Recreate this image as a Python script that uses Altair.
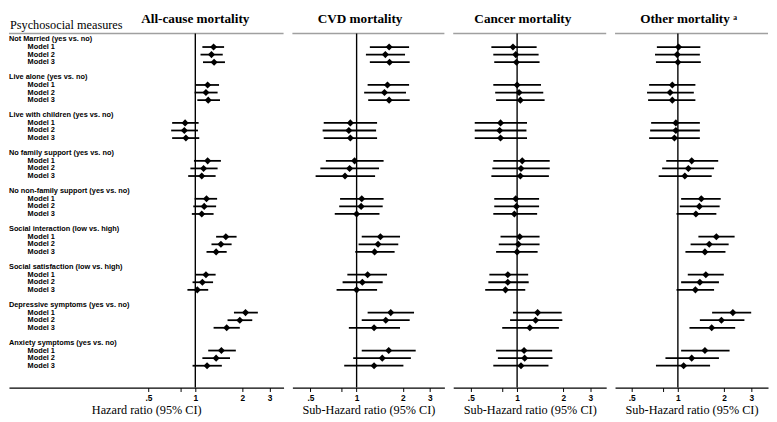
import altair as alt
import pandas as pd

measures = [
    "Not Married (yes vs. no)",
    "Live alone (yes vs. no)",
    "Live with children (yes vs. no)",
    "No family support (yes vs. no)",
    "No non-family support (yes vs. no)",
    "Social interaction (low vs. high)",
    "Social satisfaction (low vs. high)",
    "Depressive symptoms (yes vs. no)",
    "Anxiety symptoms (yes vs. no)",
]
models = ["Model 1", "Model 2", "Model 3"]

outcomes = ["All-cause mortality", "CVD mortality", "Cancer mortality", "Other mortality ᵃ"]
axis_titles = ["Hazard ratio (95% CI)", "Sub-Hazard ratio (95% CI)",
               "Sub-Hazard ratio (95% CI)", "Sub-Hazard ratio (95% CI)"]

tick_values = [0.5, 0.8, 1, 2, 3]
tick_labels = [".5", "", "1", "2", "3"]
reference_hr = [1.0]

allcause_hr = [1.31, 1.27, 1.32, 1.20, 1.17, 1.21, 0.86, 0.85, 0.87, 1.20, 1.13, 1.10, 1.18, 1.14, 1.10,
               1.57, 1.46, 1.36, 1.17, 1.11, 1.03, 2.10, 1.93, 1.59, 1.47, 1.36, 1.19]
allcause_lo = [1.11, 1.08, 1.12, 1.01, 0.99, 1.03, 0.71, 0.70, 0.71, 0.98, 0.93, 0.90, 0.99, 0.97, 0.95,
               1.36, 1.27, 1.18, 1.00, 0.96, 0.89, 1.77, 1.61, 1.31, 1.21, 1.11, 0.96]
allcause_hi = [1.53, 1.50, 1.55, 1.42, 1.39, 1.44, 1.05, 1.04, 1.06, 1.46, 1.39, 1.35, 1.38, 1.36, 1.31,
               1.84, 1.71, 1.59, 1.35, 1.30, 1.21, 2.52, 2.32, 1.93, 1.82, 1.67, 1.48]

cvd_hr = [1.63, 1.54, 1.64, 1.59, 1.52, 1.63, 0.91, 0.89, 0.91, 0.97, 0.90, 0.84, 1.08, 1.07, 1.00,
          1.43, 1.38, 1.31, 1.18, 1.09, 1.00, 1.67, 1.55, 1.30, 1.62, 1.47, 1.30]
cvd_lo = [1.22, 1.15, 1.22, 1.18, 1.12, 1.19, 0.61, 0.60, 0.61, 0.63, 0.58, 0.54, 0.78, 0.77, 0.72,
          1.08, 1.03, 0.98, 0.87, 0.81, 0.74, 1.18, 1.08, 0.89, 1.08, 0.95, 0.83]
cvd_hi = [2.20, 2.07, 2.22, 2.20, 2.10, 2.22, 1.36, 1.34, 1.36, 1.50, 1.40, 1.32, 1.50, 1.48, 1.41,
          1.92, 1.87, 1.77, 1.58, 1.48, 1.36, 2.37, 2.22, 1.92, 2.43, 2.26, 2.02]

cancer_hr = [0.94, 0.98, 0.99, 1.00, 1.03, 1.05, 0.78, 0.77, 0.78, 1.08, 1.06, 1.05, 0.98, 0.99, 0.96,
             1.04, 1.02, 1.00, 0.87, 0.87, 0.84, 1.36, 1.32, 1.21, 1.11, 1.12, 1.06]
cancer_lo = [0.68, 0.70, 0.71, 0.70, 0.72, 0.73, 0.53, 0.53, 0.53, 0.70, 0.69, 0.68, 0.71, 0.71, 0.70,
             0.78, 0.76, 0.73, 0.66, 0.65, 0.62, 0.94, 0.90, 0.80, 0.73, 0.75, 0.70]
cancer_hi = [1.34, 1.38, 1.40, 1.43, 1.48, 1.51, 1.16, 1.15, 1.16, 1.63, 1.63, 1.61, 1.39, 1.39, 1.35,
             1.40, 1.40, 1.36, 1.18, 1.19, 1.13, 1.95, 1.97, 1.87, 1.69, 1.70, 1.60]

other_hr = [1.01, 0.99, 1.00, 0.92, 0.89, 0.92, 0.97, 0.97, 0.95, 1.23, 1.17, 1.11, 1.42, 1.38, 1.31,
            1.78, 1.60, 1.50, 1.52, 1.39, 1.30, 2.28, 1.92, 1.66, 1.50, 1.23, 1.09]
other_lo = [0.73, 0.71, 0.72, 0.65, 0.63, 0.64, 0.67, 0.66, 0.65, 0.84, 0.79, 0.75, 1.05, 1.03, 0.98,
            1.36, 1.21, 1.12, 1.16, 1.05, 0.98, 1.67, 1.39, 1.19, 1.05, 0.83, 0.72]
other_hi = [1.40, 1.39, 1.41, 1.30, 1.27, 1.30, 1.39, 1.39, 1.39, 1.83, 1.72, 1.66, 1.90, 1.87, 1.78,
            2.34, 2.14, 2.04, 1.99, 1.85, 1.72, 3.00, 2.71, 2.36, 2.17, 1.85, 1.62]

series = [
    (allcause_hr, allcause_lo, allcause_hi),
    (cvd_hr, cvd_lo, cvd_hi),
    (cancer_hr, cancer_lo, cancer_hi),
    (other_hr, other_lo, other_hi),
]

# build tables
est_rows = []
for oi, (hr, lo, hi) in enumerate(series):
    k = 0
    for g, meas in enumerate(measures):
        for m, mod in enumerate(models):
            est_rows.append({"outcome": outcomes[oi], "measure": meas, "model": mod,
                             "row": 5 * g + m + 1, "hr": hr[k], "lo": lo[k], "hi": hi[k]})
            k += 1
est = pd.DataFrame(est_rows)

lab_rows = []
for g, meas in enumerate(measures):
    lab_rows.append({"label": meas, "row": 5 * g, "level": "header"})
    for m, mod in enumerate(models):
        lab_rows.append({"label": mod, "row": 5 * g + m + 1, "level": "model"})
labels = pd.DataFrame(lab_rows)

label_expr = ""
for v, t in zip(tick_values, tick_labels):
    label_expr += f"datum.value == {v} ? '{t}' : "
label_expr += "''"

yscale = alt.Scale(domain=[-0.775, 45.88], reverse=True, nice=False, zero=False)
H = 361


def panel(i, w, domain, title_x, with_labels=False):
    d = est[est.outcome == outcomes[i]]
    xscale = alt.Scale(type="log", domain=domain, nice=False)
    xaxis = alt.Axis(values=tick_values, labelExpr=label_expr, grid=False)
    ttl = axis_titles[i]
    base = alt.Chart(d)
    top_line = alt.Chart(pd.DataFrame({"a": [0]})).mark_rule(
        color="#a0a0a0", strokeWidth=1.6).encode(
        x=alt.value(0), x2=alt.value(w), y=alt.value(0))
    ref = alt.Chart(pd.DataFrame({"ref": reference_hr})).mark_rule(
        color="black", strokeWidth=1.4).encode(
        x=alt.X("ref:Q", scale=xscale, axis=xaxis, title=ttl))
    bars = base.mark_rule(color="black", strokeWidth=1.8).encode(
        x=alt.X("lo:Q", scale=xscale, axis=xaxis, title=ttl),
        x2="hi:Q",
        y=alt.Y("row:Q", scale=yscale, axis=None),
    )
    pts = base.mark_point(shape="diamond", filled=True, size=52, color="black", opacity=1).encode(
        x=alt.X("hr:Q", scale=xscale, axis=xaxis, title=ttl),
        y=alt.Y("row:Q", scale=yscale, axis=None),
    )
    title = alt.Chart(pd.DataFrame({"t": [outcomes[i]]})).mark_text(
        align="center", baseline="middle", font="Liberation Serif", fontSize=13.5,
        fontWeight="bold", color="black").encode(
        x=alt.value(title_x), y=alt.value(-15), text="t:N")
    layers = [top_line, ref, bars, pts, title]
    if with_labels:
        lab = alt.Chart(labels)
        heads = lab.transform_filter(alt.datum.level == "header").mark_text(
            align="left", baseline="middle", font="Liberation Sans", fontWeight="bold",
            fontSize=7.5, color="black").encode(
            x=alt.value(0), y=alt.Y("row:Q", scale=yscale, axis=None), text="label:N")
        mods = lab.transform_filter(alt.datum.level == "model").mark_text(
            align="left", baseline="middle", font="Liberation Sans", fontWeight="bold",
            fontSize=7.5, color="black").encode(
            x=alt.value(19), y=alt.Y("row:Q", scale=yscale, axis=None), text="label:N")
        head_title = alt.Chart(pd.DataFrame({"t": ["Psychosocial measures"]})).mark_text(
            align="left", baseline="middle", font="Liberation Serif", fontSize=12.5,
            color="black").encode(x=alt.value(1), y=alt.value(-9), text="t:N")
        layers += [heads, mods, head_title]
    return alt.layer(*layers).properties(width=w, height=H)


p1 = panel(0, 280, [0.0637, 3.685], 190, with_labels=True)
p2 = panel(1, 155, [0.381, 3.74], 69)
p3 = panel(2, 156, [0.384, 3.80], 71)
p4 = panel(3, 156, [0.390, 3.86], 75)

chart = alt.hconcat(p1, p2, p3, p4, spacing=7).properties(padding=0).configure_view(
    stroke=None
).configure_axis(
    domainColor="black", domainWidth=1.3, tickColor="black", tickSize=4, tickWidth=1,
    labelFont="Liberation Sans", labelFontWeight="bold", labelFontSize=8.5, labelColor="black",
    labelPadding=2, titleFont="Liberation Serif", titleFontSize=12.5, titleFontWeight="normal",
    titleColor="black", titlePadding=2
)

chart.save("out.html", embed_options={"renderer": "svg", "actions": False})
